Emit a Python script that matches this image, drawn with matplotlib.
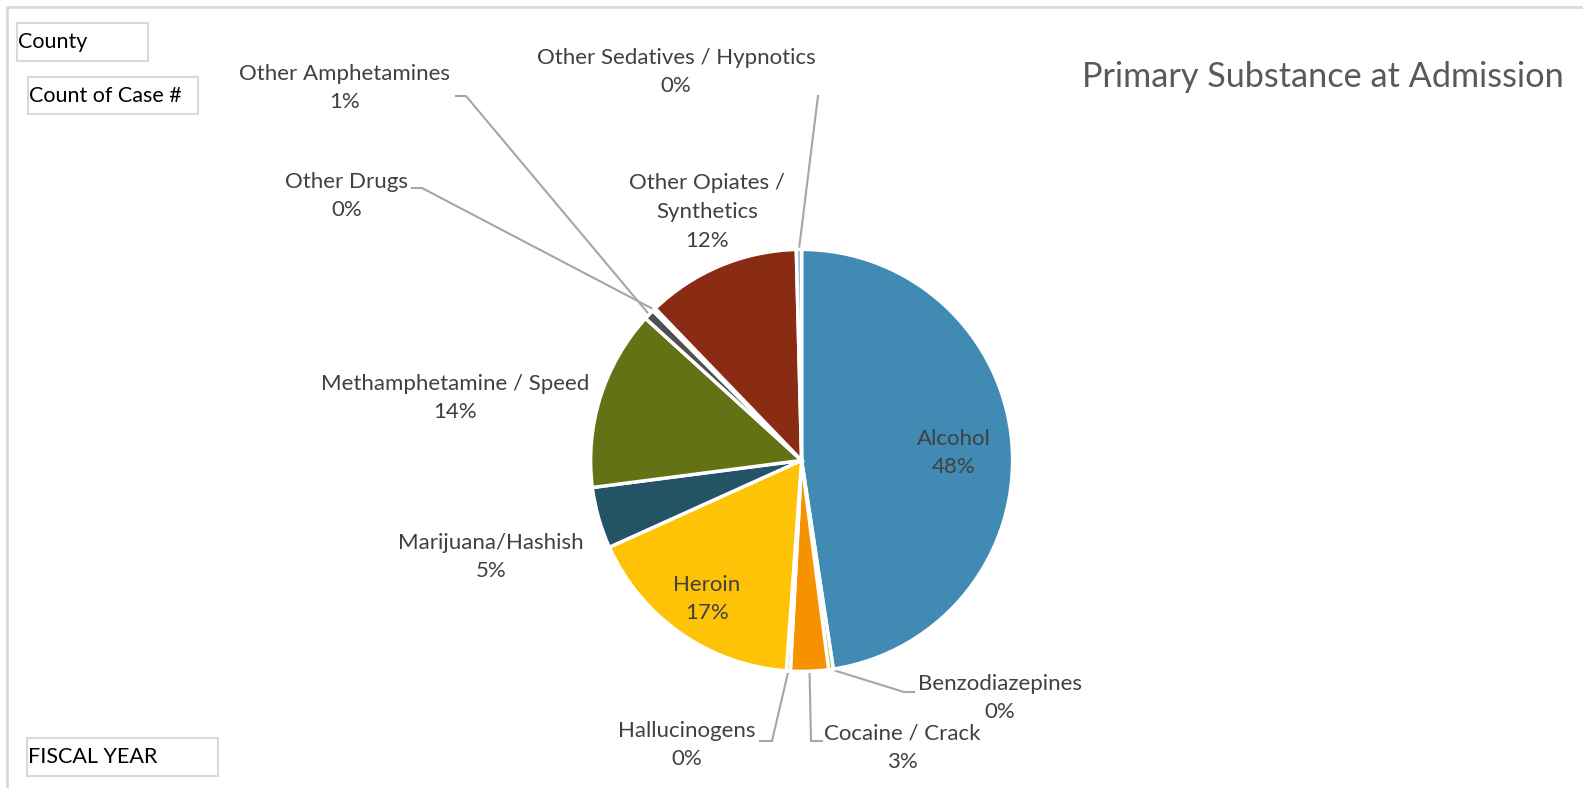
import numpy as np
import matplotlib.pyplot as plt
from matplotlib.patches import Rectangle

# pie data (share of admissions, %)
substances = ['Alcohol', 'Benzodiazepines', 'Cocaine / Crack', 'Hallucinogens', 'Heroin',
              'Marijuana/Hashish', 'Methamphetamine / Speed', 'Other Amphetamines',
              'Other Drugs', 'Other Opiates /\nSynthetics', 'Other Sedatives / Hypnotics']
shares = [47.6, 0.35, 2.9, 0.3, 17.1, 4.7, 13.8, 0.8, 0.25, 11.8, 0.4]
colors = ['#418AB3', '#A6B727', '#F69200', '#838383', '#FEC306', '#255366',
          '#637214', '#4F4F4F', '#A86E00', '#892C13', '#8DB9D4']

W, H = 1583, 788
def Y(y):
    return H - y

plt.rcParams['font.family'] = ['Lato', 'DejaVu Sans']
fig = plt.figure(figsize=(W/100, H/100), dpi=100)
ax = fig.add_axes([0, 0, 1, 1])

cx, cy, r = 801.6, Y(460.4), 211
wedges, _ = ax.pie(shares, colors=colors, center=(cx, cy), radius=r, startangle=90,
                   counterclock=False, wedgeprops=dict(edgecolor='white', linewidth=2.5))
ax.set_xlim(0, W)
ax.set_ylim(0, H)
ax.axis('off')

pct = [int(round(v / sum(shares) * 100)) for v in shares]
txtc = '#404040'
linec = '#A6A6A6'

# label layout: text centre, and optional leader elbow points
layout = {
    0: dict(xy=(954, 453), lead=None),
    1: dict(xy=(1000, 698), lead=[(904, 692), (914, 692)]),
    2: dict(xy=(902, 748), lead=[(811, 741), (822, 741)]),
    3: dict(xy=(687, 745), lead=[(772, 741), (760, 741)]),
    4: dict(xy=(707, 599), lead=None),
    5: dict(xy=(491, 557), lead=None),
    6: dict(xy=(455, 398), lead=None),
    7: dict(xy=(345, 88), lead=[(466, 96), (456, 96)]),
    8: dict(xy=(347, 196), lead=[(422, 188), (412, 188)]),
    9: dict(xy=(707, 212), lead=None),
    10: dict(xy=(676, 72), lead=[(818, 96)]),
}

for i, w in enumerate(wedges):
    lay = layout[i]
    x, y = lay['xy']
    ax.text(x, Y(y), '%s\n%d%%' % (substances[i], pct[i]), ha='center', va='center',
            fontsize=16, color=txtc, linespacing=1.55)
    if lay['lead']:
        mid = np.deg2rad((w.theta1 + w.theta2) / 2)
        px = [cx + r * np.cos(mid)] + [p[0] for p in lay['lead']]
        py = [cy + r * np.sin(mid)] + [Y(p[1]) for p in lay['lead']]
        ax.plot(px, py, color=linec, lw=1.5, zorder=0)

ax.text(1082, Y(77), 'Primary Substance at Admission', ha='left', va='center',
        fontsize=24.7, color='#595959')

# chart border (left and top)
ax.plot([7, 7, W], [0, Y(7), Y(7)], color='#D9D9D9', lw=2, clip_on=False)

# pivot field buttons
buttons = [('County', 17, 23, 131, 38), ('Count of Case #', 28, 77, 170, 37),
           ('FISCAL YEAR', 27, 738, 191, 38)]
for lab, bx, by, bw, bh in buttons:
    ax.add_patch(Rectangle((bx, Y(by + bh)), bw, bh, facecolor='white',
                           edgecolor='#D9D9D9', lw=1.5))
    ax.text(bx + 1, Y(by + bh / 2), lab, ha='left', va='center', fontsize=15.5, color='black')

plt.savefig('out.png', dpi=100)
